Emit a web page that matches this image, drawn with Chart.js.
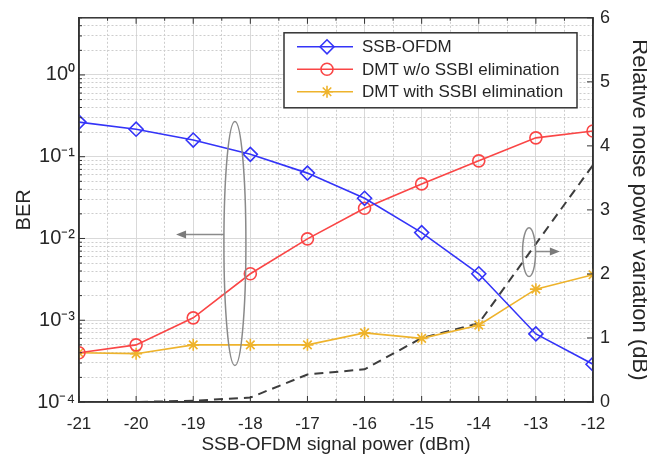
<!DOCTYPE html>
<html>
<head>
<meta charset="utf-8">
<script src="https://cdn.jsdelivr.net/npm/chart.js@4.4.0/dist/chart.umd.min.js"></script>
<style>
  html, body { margin: 0; padding: 0; background: #fff; }
</style>
</head>
<body>
<canvas id="berChart" width="647" height="457"></canvas>
<script>
// x: SSB-OFDM signal power (dBm)
var powers = [-21, -20, -19, -18, -17, -16, -15, -14, -13, -12];
// left axis, BER
var berSsbOfdm = [0.265, 0.217, 0.16, 0.107, 0.063, 0.031, 0.0118, 0.0037, 0.00068, 0.00029];
var berDmtNoElim = [0.0004, 0.0005, 0.00107, 0.0037, 0.0099, 0.0234, 0.0465, 0.089, 0.17, 0.206];
var berDmtElim = [0.0004, 0.00039, 0.0005, 0.0005, 0.0005, 0.0007, 0.0006, 0.00087, 0.0024, 0.0036];
// right axis, relative noise power variation (dB)
var noiseVariation = [0, 0, 0.02, 0.07, 0.43, 0.51, 1.0, 1.23, 2.47, 3.7];
var seriesNames = ['SSB-OFDM', 'DMT w/o SSBI elimination', 'DMT with SSBI elimination'];
var decadeLabels = { '0': '10⁰', '-1': '10⁻¹', '-2': '10⁻²', '-3': '10⁻³', '-4': '10⁻⁴' };
var rightTicks = [0, 1, 2, 3, 4, 5, 6];

var FONT = '"Liberation Sans", Arial, sans-serif';
var INK = '#262626';
var gridMajor = '#d9d9d9';
var gridMinor = '#cdcdcd';

function pts(vals) {
  return powers.map(function (p, i) { return { x: p, y: vals[i] }; });
}

function decadeTick(v) {
  var e = Math.log10(v);
  var r = Math.round(e);
  if (Math.abs(e - r) > 1e-6) return '';
  return decadeLabels[String(r)] || '';
}

function mantissa(v) {
  return v / Math.pow(10, Math.floor(Math.log10(v) + 1e-9));
}

function arrow(ctx, x0, y0, x1, y1) {
  var ang = Math.atan2(y1 - y0, x1 - x0);
  ctx.beginPath();
  ctx.moveTo(x0, y0);
  ctx.lineTo(x1 - 8 * Math.cos(ang), y1 - 8 * Math.sin(ang));
  ctx.stroke();
  ctx.beginPath();
  ctx.moveTo(x1, y1);
  ctx.lineTo(x1 - 10 * Math.cos(ang) + 4 * Math.sin(ang), y1 - 10 * Math.sin(ang) - 4 * Math.cos(ang));
  ctx.lineTo(x1 - 10 * Math.cos(ang) - 4 * Math.sin(ang), y1 - 10 * Math.sin(ang) + 4 * Math.cos(ang));
  ctx.closePath();
  ctx.fill();
}

var decor = {
  id: 'decor',
  afterDatasetsDraw: function (chart) {
    var ctx = chart.ctx, a = chart.chartArea;
    var xs = chart.scales.x, ys = chart.scales.y, y2 = chart.scales.y2;
    ctx.save();

    // inward tick marks, matlab style
    ctx.strokeStyle = '#333';
    ctx.lineWidth = 1;
    ctx.beginPath();
    xs.ticks.forEach(function (t) {
      var px = xs.getPixelForValue(t.value);
      var len = Number.isInteger(t.value) ? 6 : 3;
      ctx.moveTo(px, a.bottom); ctx.lineTo(px, a.bottom - len);
      ctx.moveTo(px, a.top); ctx.lineTo(px, a.top + len);
    });
    ys.ticks.forEach(function (t) {
      if (Math.abs(mantissa(t.value) - 1.5) < 0.01) return;
      var py = ys.getPixelForValue(t.value);
      var len = decadeTick(t.value) ? 6 : 3;
      ctx.moveTo(a.left, py); ctx.lineTo(a.left + len, py);
    });
    y2.ticks.forEach(function (t) {
      var py = y2.getPixelForValue(t.value);
      ctx.moveTo(a.right, py); ctx.lineTo(a.right - 6, py);
    });
    ctx.stroke();

    // box
    ctx.lineWidth = 1.5;
    ctx.strokeRect(a.left, a.top, a.right - a.left, a.bottom - a.top);

    // ellipses + arrows
    ctx.strokeStyle = '#8a8a8a';
    ctx.fillStyle = '#7a7a7a';
    ctx.lineWidth = 1.5;
    var cx = xs.getPixelForValue(-18.27);
    var top = ys.getPixelForValue(0.27), bot = ys.getPixelForValue(0.00028);
    ctx.beginPath();
    ctx.ellipse(cx, (top + bot) / 2, 11, (bot - top) / 2, 0, 0, Math.PI * 2);
    ctx.stroke();
    arrow(ctx, cx - 11, ys.getPixelForValue(0.0112), xs.getPixelForValue(-19.3), ys.getPixelForValue(0.0112));

    var cx2 = xs.getPixelForValue(-13.12);
    var top2 = y2.getPixelForValue(2.72), bot2 = y2.getPixelForValue(1.96);
    ctx.beginPath();
    ctx.ellipse(cx2, (top2 + bot2) / 2, 6.5, (bot2 - top2) / 2, 0, 0, Math.PI * 2);
    ctx.stroke();
    arrow(ctx, cx2 + 6.5, y2.getPixelForValue(2.35), xs.getPixelForValue(-12.58), y2.getPixelForValue(2.35));

    // legend box
    var bx = 284, by = a.top + 15, bw = a.right - 16 - bx, bh = 75;
    ctx.fillStyle = '#fff';
    ctx.fillRect(bx, by, bw, bh);
    ctx.strokeStyle = '#333';
    ctx.lineWidth = 1.5;
    ctx.strokeRect(bx, by, bw, bh);
    ctx.font = '17px ' + FONT;
    ctx.textBaseline = 'middle';
    chart.data.datasets.slice(0, 3).forEach(function (ds, i) {
      var ly = by + 14 + i * 22.5;
      ctx.strokeStyle = ds.borderColor;
      ctx.lineWidth = 1.6;
      ctx.beginPath();
      ctx.moveTo(bx + 13, ly); ctx.lineTo(bx + 69, ly);
      ctx.stroke();
      ctx.fillStyle = 'rgba(0,0,0,0)';
      Chart.helpers.drawPoint(ctx, { pointStyle: ds.pointStyle, radius: ds.pointRadius, borderWidth: 1.6, rotation: 0 }, bx + 43, ly);
      ctx.fillStyle = INK;
      ctx.fillText(ds.label, bx + 78, ly + 1);
    });
    ctx.restore();
  }
};

var blue = '#3434f8', red = '#fa4646', gold = '#eeb32c';

new Chart(document.getElementById('berChart'), {
  type: 'line',
  data: {
    datasets: [{
      label: seriesNames[0],
      data: pts(berSsbOfdm),
      yAxisID: 'y',
      borderColor: blue,
      borderWidth: 1.6,
      pointStyle: 'rectRot',
      pointRadius: 7,
      pointBorderWidth: 1.6,
      pointBackgroundColor: 'rgba(0,0,0,0)',
      pointBorderColor: blue
    }, {
      label: seriesNames[1],
      data: pts(berDmtNoElim),
      yAxisID: 'y',
      borderColor: red,
      borderWidth: 1.6,
      pointStyle: 'circle',
      pointRadius: 6,
      pointBorderWidth: 1.6,
      pointBackgroundColor: 'rgba(0,0,0,0)',
      pointBorderColor: red
    }, {
      label: seriesNames[2],
      data: pts(berDmtElim),
      yAxisID: 'y',
      borderColor: gold,
      borderWidth: 1.6,
      pointStyle: 'star',
      pointRadius: 6,
      pointBorderWidth: 1.6,
      pointBackgroundColor: 'rgba(0,0,0,0)',
      pointBorderColor: gold
    }, {
      label: 'Relative noise power variation',
      data: pts(noiseVariation),
      yAxisID: 'y2',
      borderColor: '#3d3d3d',
      borderWidth: 2,
      borderDash: [9, 6],
      pointRadius: 0
    }]
  },
  options: {
    responsive: false,
    animation: false,
    layout: { padding: { top: 16 } },
    plugins: { legend: { display: false }, tooltip: { enabled: false } },
    scales: {
      x: {
        type: 'linear',
        min: -21,
        max: -12,
        afterFit: function (s) { s.height = 55; },
        ticks: {
          stepSize: 0.5,
          autoSkip: false,
          maxRotation: 0,
          padding: 12,
          color: INK,
          font: { size: 17, family: FONT },
          callback: function (v) { return Number.isInteger(v) ? String(v) : ''; }
        },
        grid: {
          drawTicks: false,
          color: function (c) { return c.tick && !Number.isInteger(c.tick.value) ? gridMinor : gridMajor; }
        },
        border: {
          color: '#333',
          width: 1.5,
          dash: function (c) { return c.tick && !Number.isInteger(c.tick.value) ? [2, 2] : []; }
        },
        title: {
          display: true,
          text: 'SSB-OFDM signal power (dBm)',
          color: INK,
          font: { size: 19, family: FONT },
          padding: { top: 0, bottom: 1 }
        }
      },
      y: {
        type: 'logarithmic',
        position: 'left',
        min: 0.0001,
        max: 5,
        afterFit: function (s) { s.width = 79; },
        ticks: {
          autoSkip: false,
          padding: 4,
          color: INK,
          font: { size: 20, family: FONT },
          callback: function (v) { return decadeTick(v); }
        },
        grid: {
          drawTicks: false,
          color: function (c) {
            if (!c.tick) return gridMajor;
            if (Math.abs(mantissa(c.tick.value) - 1.5) < 0.01) return 'rgba(0,0,0,0)';
            return decadeTick(c.tick.value) ? gridMajor : gridMinor;
          }
        },
        border: {
          color: '#333',
          width: 1.5,
          dash: function (c) { return c.tick && !decadeTick(c.tick.value) ? [2, 2] : []; }
        },
        title: {
          display: true,
          text: 'BER',
          color: INK,
          font: { size: 20, family: FONT, lineHeight: 1 },
          padding: { top: 14, bottom: 0 }
        }
      },
      y2: {
        type: 'linear',
        position: 'right',
        min: 0,
        max: 6,
        afterFit: function (s) { s.width = 54; },
        afterBuildTicks: function (s) { s.ticks = rightTicks.map(function (v) { return { value: v }; }); },
        ticks: {
          padding: 7,
          color: INK,
          font: { size: 18, family: FONT }
        },
        grid: { drawOnChartArea: false, drawTicks: false },
        border: { color: '#333', width: 1.5 },
        title: {
          display: true,
          text: 'Relative noise power variation (dB)',
          color: INK,
          font: { size: 22, family: FONT, lineHeight: 1 },
          padding: { top: -3, bottom: 0 }
        }
      }
    }
  },
  plugins: [decor]
});
</script>
</body>
</html>
